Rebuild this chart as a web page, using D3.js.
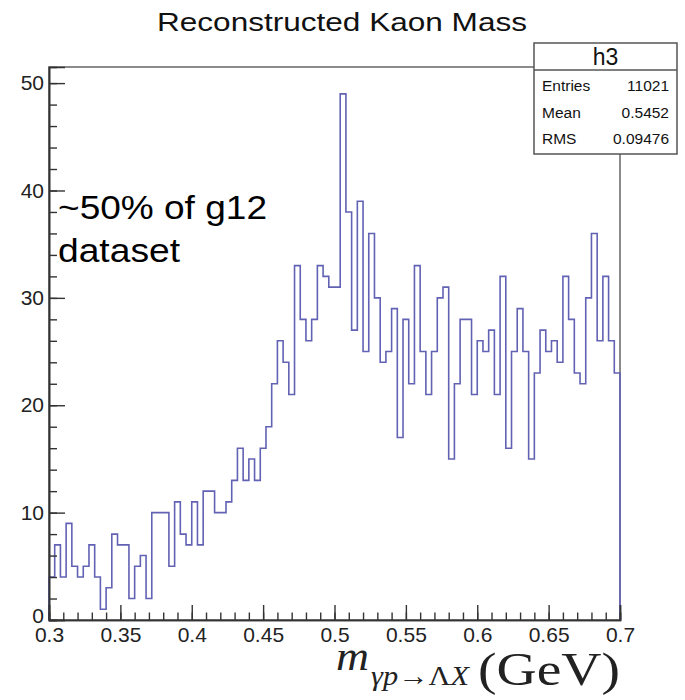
<!DOCTYPE html>
<html>
<head>
<meta charset="utf-8">
<script src="https://cdn.jsdelivr.net/npm/d3@7"></script>
<style>
  html, body { margin: 0; padding: 0; background: #fff; }
  svg { display: block; font-family: "Liberation Sans", Arial, Helvetica, sans-serif; }
</style>
</head>
<body>
<svg id="chart" width="685" height="700"></svg>
<script>
// Histogram h3: reconstructed mass, 100 bins from 0.3 to 0.7 GeV
const binLow = 0.3;
const binHigh = 0.7;
const counts = [
  4, 7, 4, 9, 5, 4, 5, 7, 4, 1,
  3, 8, 7, 7, 2, 5, 6, 2, 10, 10,
  10, 5, 11, 8, 7, 11, 7, 12, 12, 10,
  10, 11, 13, 16, 13, 15, 13, 16, 18, 22,
  26, 24, 21, 33, 28, 26, 28, 33, 32, 31,
  31, 49, 38, 27, 39, 25, 36, 30, 24, 25,
  29, 17, 28, 22, 33, 25, 21, 25, 30, 31,
  15, 22, 28, 28, 21, 26, 25, 27, 21, 32,
  16, 25, 29, 25, 15, 23, 27, 25, 26, 24,
  32, 28, 23, 22, 30, 36, 26, 32, 26, 23
];
const xMajorTicks = [0.3, 0.35, 0.4, 0.45, 0.5, 0.55, 0.6, 0.65, 0.7];
const xTickLabels = ["0.3", "0.35", "0.4", "0.45", "0.5", "0.55", "0.6", "0.65", "0.7"];
const yMajorTicks = [0, 10, 20, 30, 40, 50];
const statsLabels = ["Entries", "Mean", "RMS"];
const statsValues = ["11021", "0.5452", "0.09476"];
const histName = "h3";
const titleText = "Reconstructed Kaon Mass";
const noteLines = ["~50% of g12", "dataset"];

const svg = d3.select("#chart");
const frame = { left: 49, right: 620, top: 67, bottom: 620 };
const yMax = 51.5;

const x = d3.scaleLinear().domain([binLow, binHigh]).range([frame.left, frame.right]);
const y = d3.scaleLinear().domain([0, yMax]).range([frame.bottom, frame.top]);

const nBins = counts.length;
const binWidth = (binHigh - binLow) / nBins;
const bins = counts.map((c, i) => ({ x0: binLow + i * binWidth, x1: binLow + (i + 1) * binWidth, c }));

// Frame
svg.append("rect")
  .attr("x", frame.left).attr("y", frame.top)
  .attr("width", frame.right - frame.left).attr("height", frame.bottom - frame.top)
  .attr("fill", "none").attr("stroke", "#666").attr("stroke-width", 1.5);

// Histogram outline as a step path
const pts = [[bins[0].x0, 0]];
bins.forEach(b => { pts.push([b.x0, b.c]); pts.push([b.x1, b.c]); });
pts.push([bins[nBins - 1].x1, 0]);
const line = d3.line().x(d => x(d[0])).y(d => y(d[1]));
svg.append("path")
  .attr("d", line(pts))
  .attr("fill", "none")
  .attr("stroke", "#6262b4")
  .attr("stroke-width", 1.6);

// Axes with inward ticks
const xMinor = d3.range(0, 41).map(i => binLow + i * 0.01);
const xAxisMinor = d3.axisBottom(x).tickValues(xMinor).tickSize(-7.5).tickFormat("");
const xAxis = d3.axisBottom(x).tickValues(xMajorTicks).tickSize(-15).tickPadding(7)
  .tickFormat((d, i) => xTickLabels[i]);
const gxm = svg.append("g").attr("transform", `translate(0,${frame.bottom})`).call(xAxisMinor);
const gx = svg.append("g").attr("transform", `translate(0,${frame.bottom})`).call(xAxis);

const yMinor = d3.range(0, 26).map(i => i * 2);
const yAxisMinor = d3.axisLeft(y).tickValues(yMinor).tickSize(-8).tickFormat("");
const yAxis = d3.axisLeft(y).tickValues(yMajorTicks).tickSize(-16).tickPadding(5).tickFormat(d3.format("d"));
const gym = svg.append("g").attr("transform", `translate(${frame.left},0)`).call(yAxisMinor);
const gy = svg.append("g").attr("transform", `translate(${frame.left},0)`).call(yAxis);

[gx, gxm, gy, gym].forEach(g => {
  g.selectAll(".domain").attr("stroke", "#333").attr("stroke-width", 1.6);
  g.selectAll(".tick line").attr("stroke", "#333").attr("stroke-width", 1.4);
  g.selectAll("text").attr("font-family", "Liberation Sans, Arial, sans-serif")
    .attr("font-size", 21).attr("fill", "#222");
});
// the zero label sits a little higher, just clear of the first x label
gy.selectAll(".tick text").filter(d => d === 0).attr("dy", "0.1em");

// Title
svg.append("text")
  .attr("x", 157).attr("y", 31)
  .attr("font-size", 26)
  .attr("textLength", 370).attr("lengthAdjust", "spacingAndGlyphs")
  .attr("fill", "#111")
  .text(titleText);

// Annotation
noteLines.forEach((t, i) => {
  svg.append("text")
    .attr("x", 58).attr("y", 219 + i * 43)
    .attr("font-size", 33)
    .attr("textLength", i === 0 ? 209 : 122).attr("lengthAdjust", "spacingAndGlyphs")
    .attr("fill", "#000")
    .text(t);
});

// Statistics box
const box = { x: 534, y: 43, w: 143, h: 111, head: 27 };
svg.append("rect")
  .attr("x", box.x).attr("y", box.y).attr("width", box.w).attr("height", box.h)
  .attr("fill", "#fff").attr("stroke", "#555").attr("stroke-width", 1.5);
svg.append("line")
  .attr("x1", box.x).attr("x2", box.x + box.w)
  .attr("y1", box.y + box.head).attr("y2", box.y + box.head)
  .attr("stroke", "#555").attr("stroke-width", 1.5);
svg.append("text")
  .attr("x", box.x + box.w / 2).attr("y", 65)
  .attr("text-anchor", "middle").attr("font-size", 23).attr("fill", "#111")
  .text(histName);
statsLabels.forEach((lab, i) => {
  const by = 91 + i * 26.7;
  svg.append("text").attr("x", 542).attr("y", by)
    .attr("font-size", 15.5).attr("fill", "#111").text(lab);
  svg.append("text").attr("x", 669).attr("y", by)
    .attr("text-anchor", "end").attr("font-size", 15.5).attr("fill", "#111").text(statsValues[i]);
});

// Axis title: m_{γp→ΛX} (GeV)
const serif = "Liberation Serif, Times New Roman, serif";
svg.append("text")
  .attr("x", 336).attr("y", 670)
  .attr("font-family", serif).attr("font-style", "italic").attr("font-size", 41)
  .attr("textLength", 33).attr("lengthAdjust", "spacingAndGlyphs")
  .attr("fill", "#222").text("m");
const sub = svg.append("text")
  .attr("x", 371).attr("y", 685)
  .attr("font-family", serif).attr("font-size", 27).attr("fill", "#222")
  .attr("textLength", 98).attr("lengthAdjust", "spacingAndGlyphs");
sub.append("tspan").attr("font-style", "italic").text("γp");
sub.append("tspan").text("→Λ");
sub.append("tspan").attr("font-style", "italic").text("X");
svg.append("text")
  .attr("x", 478).attr("y", 685)
  .attr("font-family", serif).attr("font-size", 46).attr("fill", "#222")
  .attr("textLength", 142).attr("lengthAdjust", "spacingAndGlyphs")
  .text("(GeV)");
</script>
</body>
</html>
